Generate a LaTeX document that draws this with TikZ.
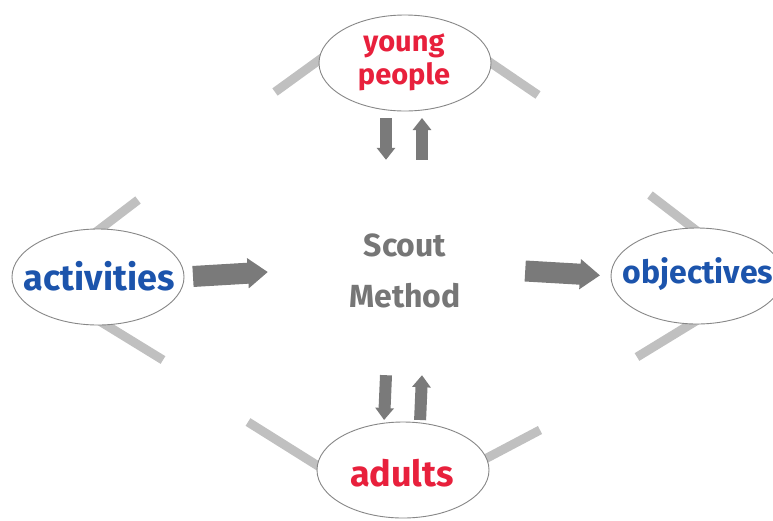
\documentclass[tikz,border=0pt]{standalone}
\usepackage{fontspec}
\setmainfont{Fira Sans}
\usetikzlibrary{arrows.meta,backgrounds,shapes.geometric}
\definecolor{scoutred}{RGB}{232,32,60}
\definecolor{scoutblue}{RGB}{28,84,172}
\definecolor{bargray}{RGB}{192,192,192}
\definecolor{arrowgray}{RGB}{122,122,122}
\definecolor{rimgray}{RGB}{135,135,135}
\definecolor{titlegray}{RGB}{118,118,118}

\begin{document}
\begin{tikzpicture}[x=1pt,y=-1pt,
  bubble/.style={ellipse, draw=rimgray, line width=0.9pt, fill=white,
    minimum width=172pt, minimum height=96pt, inner sep=0pt, outer sep=0pt},
  word/.style={inner sep=0pt, align=center, font=\fontsize{#1}{33}\selectfont\bfseries},
  greybar/.style={bargray, line width=9pt, shorten <=-8pt},
  vflow/.style={arrowgray, line width=12pt, -{Triangle[width=18pt,length=12pt]}},
  hflow/.style={arrowgray, line width=21pt, -{Triangle[width=29pt,length=20pt]}},
]
\useasboundingbox (0,0) rectangle (773,520);
\clip (0,0) rectangle (773,520);

% the four elements around the method
\node[bubble] (yp) at (405,63) {};
\node[bubble] (act) at (98,277) {};
\node[bubble] (obj) at (697,276) {};
\node[bubble] (ad) at (403,470) {};

\node[word=29, text=scoutred] (ypt) at (404,62) {young\\people};
\node[word=36, text=scoutblue] (actt) at (99,276) {activities};
\node[word=32, text=scoutblue] (objt) at (698,274) {objectives};
\node[word=36, text=scoutred] (adt) at (402,473) {adults};

% centre title
\node[minimum width=240pt, minimum height=208pt, inner sep=0pt, align=center,
  text=titlegray, font=\fontsize{32}{51}\selectfont\bfseries]
  (sm) at (405,271) {Scout\\Method};

% light bars behind the bubbles
\begin{scope}[on background layer]
  \fill[white] (0,0) rectangle (773,520);
  \draw[greybar] (yp.178) -- (275,92);
  \draw[greybar] (yp.0) -- (538,95);
  \draw[greybar] ([xshift=2pt]act.north) -- (138,200);
  \draw[greybar] ([xshift=8pt]act.south) -- (163,360);
  \draw[greybar] ([xshift=-4pt]obj.north) -- (650,195);
  \draw[greybar] ([xshift=-6pt]obj.south) -- (637,357);
  \draw[greybar] (ad.177) -- (248,422);
  \draw[greybar] (ad.8) -- (540,430);
\end{scope}

% flows
\draw[hflow, shorten <=9pt, shorten >=17pt] (act.east) -- (sm.west);
\draw[hflow, shorten >=11pt] (sm.east) -- (obj.west);
\draw[vflow, shorten <=7pt, shorten >=7pt] ([xshift=-19pt]yp.south) -- ([xshift=-19pt]sm.north);
\draw[vflow, shorten <=7pt, shorten >=7pt] ([xshift=17pt]sm.north) -- ([xshift=17pt]yp.south);
\draw[vflow, shorten >=2pt] ([xshift=-19pt]sm.south) -- ([xshift=-19pt]ad.north);
\draw[vflow, shorten <=2pt] ([xshift=17pt]ad.north) -- ([xshift=17pt]sm.south);
\end{tikzpicture}
\end{document}
